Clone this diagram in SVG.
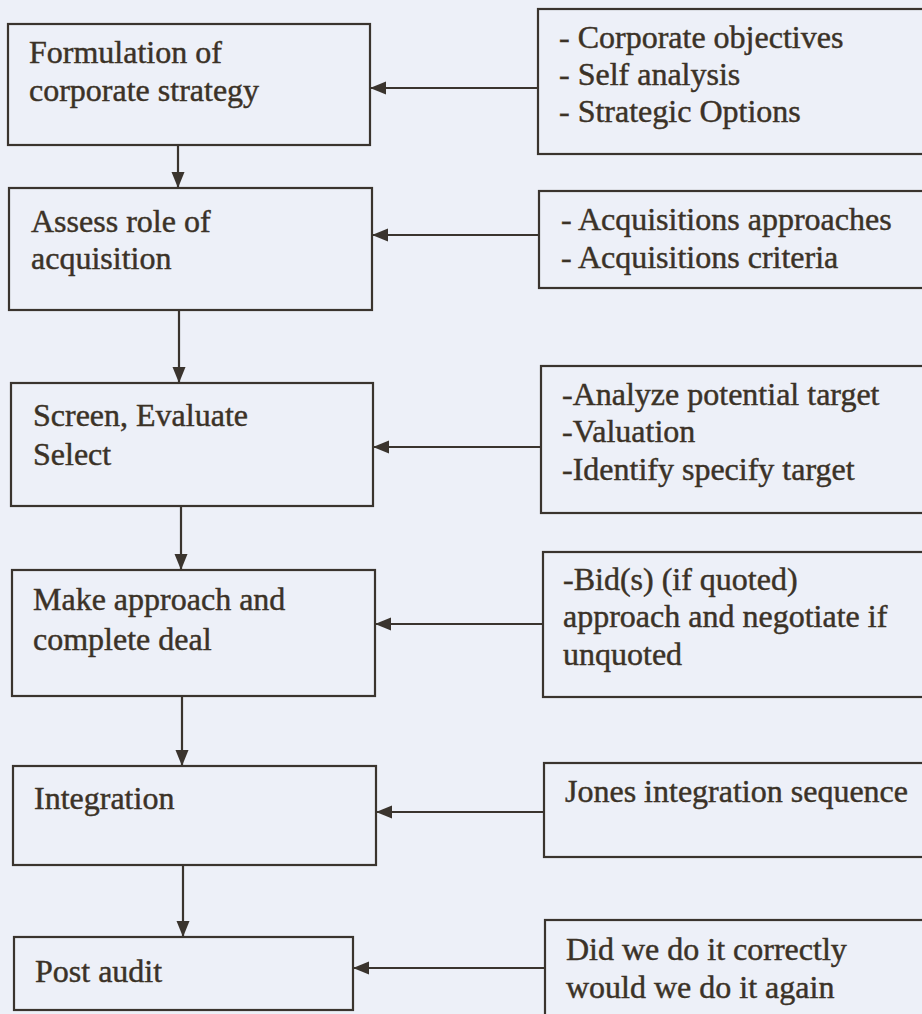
<svg xmlns="http://www.w3.org/2000/svg" width="922" height="1014" viewBox="0 0 922 1014">
<defs>
<style>
.box{fill:none;stroke:#3a342e;stroke-width:2.2}
.t{font-family:"Liberation Serif","Times New Roman",serif;font-size:32px;fill:#3b3227;stroke:#3b3227;stroke-width:0.45}
.c{stroke:#3a342e;stroke-width:2.2;fill:none;marker-end:url(#ah)}
</style>
<marker id="ah" markerUnits="userSpaceOnUse" markerWidth="16" markerHeight="16" viewBox="0 0 16 16" refX="16" refY="8" orient="auto">
<path d="M0,1.5 L16,8 L0,14.5 Z" fill="#3a342e"/>
</marker>
</defs>
<rect x="0" y="0" width="922" height="1014" fill="#edf0f8"/>
<g id="connectors">
<line class="c" x1="178" y1="146" x2="178" y2="188"/>
<line class="c" x1="179" y1="311" x2="179" y2="383"/>
<line class="c" x1="181" y1="507" x2="181" y2="570"/>
<line class="c" x1="182" y1="697" x2="182" y2="766"/>
<line class="c" x1="183" y1="866" x2="183" y2="937"/>
<line class="c" x1="538" y1="88" x2="370" y2="88"/>
<line class="c" x1="539" y1="235" x2="372" y2="235"/>
<line class="c" x1="541" y1="447" x2="373" y2="447"/>
<line class="c" x1="543" y1="624" x2="375" y2="624"/>
<line class="c" x1="544" y1="812" x2="376" y2="812"/>
<line class="c" x1="545" y1="968" x2="353" y2="968"/>
</g>
<g id="formulation">
<rect class="box" x="8" y="24" width="362" height="121"/>
<text class="t" x="29" y="63">Formulation of</text>
<text class="t" x="29" y="101">corporate strategy</text>
</g>
<g id="assess">
<rect class="box" x="9" y="188" width="363" height="122"/>
<text class="t" x="31" y="232">Assess role of</text>
<text class="t" x="31" y="269">acquisition</text>
</g>
<g id="screen">
<rect class="box" x="11" y="383" width="362" height="123"/>
<text class="t" x="33" y="426">Screen, Evaluate</text>
<text class="t" x="33" y="465">Select</text>
</g>
<g id="approach">
<rect class="box" x="12" y="570" width="363" height="126"/>
<text class="t" x="33" y="610">Make approach and</text>
<text class="t" x="33" y="650">complete deal</text>
</g>
<g id="integration">
<rect class="box" x="13" y="766" width="363" height="99"/>
<text class="t" x="34" y="809">Integration</text>
</g>
<g id="postaudit">
<rect class="box" x="14" y="937" width="339" height="73"/>
<text class="t" x="35" y="982">Post audit</text>
</g>
<g id="objectives">
<rect class="box" x="538" y="9" width="400" height="145"/>
<text class="t" x="559" y="48">- Corporate objectives</text>
<text class="t" x="559" y="85">- Self analysis</text>
<text class="t" x="559" y="122">- Strategic Options</text>
</g>
<g id="approaches">
<rect class="box" x="539" y="191" width="400" height="97"/>
<text class="t" x="561" y="230">- Acquisitions approaches</text>
<text class="t" x="561" y="268">- Acquisitions criteria</text>
</g>
<g id="analyze">
<rect class="box" x="541" y="366" width="400" height="147"/>
<text class="t" x="562" y="405">-Analyze potential target</text>
<text class="t" x="562" y="442">-Valuation</text>
<text class="t" x="562" y="480">-Identify specify target</text>
</g>
<g id="bids">
<rect class="box" x="543" y="552" width="400" height="145"/>
<text class="t" x="563" y="590">-Bid(s) (if quoted)</text>
<text class="t" x="563" y="627">approach and negotiate if</text>
<text class="t" x="563" y="665">unquoted</text>
</g>
<g id="jones">
<rect class="box" x="544" y="763" width="400" height="94"/>
<text class="t" x="565" y="802">Jones integration sequence</text>
</g>
<g id="didwe">
<rect class="box" x="545" y="920" width="400" height="110"/>
<text class="t" x="566" y="960">Did we do it correctly</text>
<text class="t" x="566" y="998">would we do it again</text>
</g>
</svg>
